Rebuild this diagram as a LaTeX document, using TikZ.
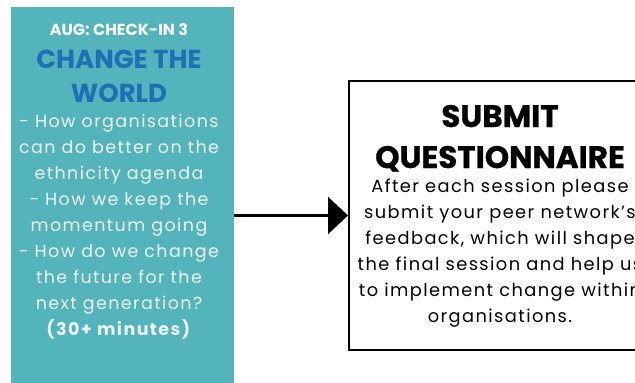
\documentclass[tikz,border=0pt]{standalone}
\usepackage{fontspec}
\setmainfont{Poppins}
\newfontfamily\spaced{Poppins}[LetterSpace=8]
\newfontfamily\heavy{Poppins}[FakeBold=0.8]
\usetikzlibrary{arrows.meta}
\definecolor{tealbg}{RGB}{84,180,187}
\definecolor{titleblue}{RGB}{31,111,180}
\definecolor{bodywhite}{RGB}{236,247,248}
\tikzset{
  card/.style={fill=tealbg, draw=none, minimum width=223pt, minimum height=376pt, inner sep=0pt, anchor=north west},
  qbox/.style={draw=black, line width=2pt, fill=white, minimum width=304pt, minimum height=269pt, inner sep=0pt, anchor=north west},
  kicker/.style={text=white, font=\fontsize{16}{18}\selectfont\bfseries, anchor=base},
  bigtitle/.style={text=titleblue, font=\fontsize{26}{34}\selectfont\bfseries, align=center, anchor=base},
  cardbody/.style={text=bodywhite, font=\spaced\fontsize{17.5}{26}\selectfont, align=center, anchor=base},
  qtitle/.style={text=black, font=\heavy\fontsize{31}{41}\selectfont\bfseries, align=center, anchor=base},
  qbody/.style={text=black, font=\spaced\fontsize{17.8}{26}\selectfont, align=center, anchor=base},
  flow/.style={line width=2.5pt, -{Triangle[length=20pt,width=37pt]}}
}
\begin{document}
\begin{tikzpicture}[x=1pt,y=-1pt]
\useasboundingbox (0,0) rectangle (635,383);
\clip (0,0) rectangle (635,383);
\node[card] (card) at (11,7) {};
\node[qbox] (qbox) at (348,80) {};
\node[kicker] (kick) at (119,35) {AUG: CHECK-IN 3};
\node[bigtitle] (ctitle) at (119,102) {CHANGE THE\\WORLD};
\node[cardbody] (cbody) at (119,335) {- How organisations\\can do better on the\\ethnicity agenda\\- How we keep the\\momentum going\\- How do we change\\the future for the\\next generation?\\\textbf{(30+ minutes)}};
\node[qtitle] (qt) at (500,168) {SUBMIT\\QUESTIONNAIRE};
\node[qbody] (qb) at (500,322) {After each session please\\submit your peer network’s\\feedback, which will shape\\the final session and help us\\to implement change within\\organisations.};
\draw[flow] (card.east |- qbox.west) -- (qbox.west);
\end{tikzpicture}
\end{document}
